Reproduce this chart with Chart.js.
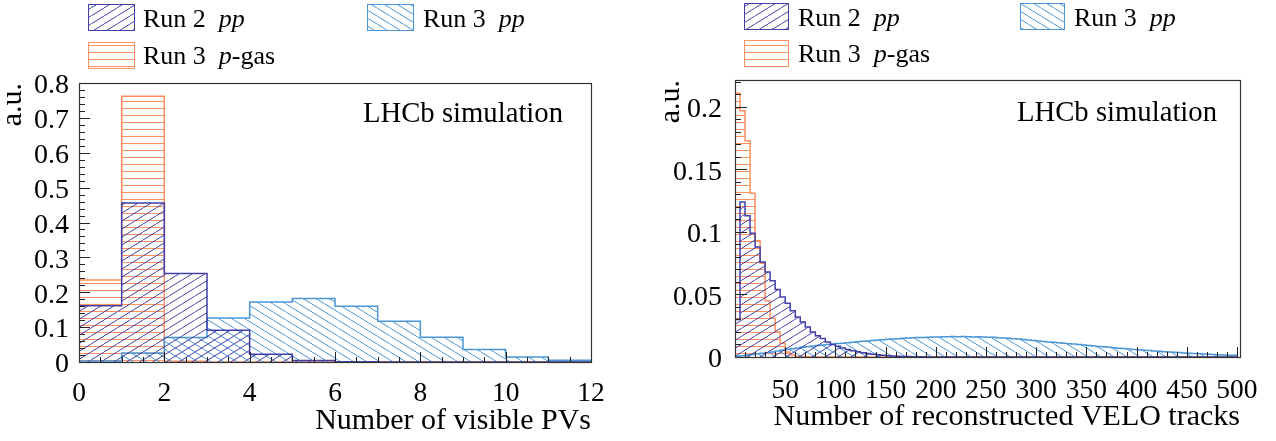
<!DOCTYPE html>
<html><head><meta charset="utf-8">
<script src="https://cdn.jsdelivr.net/npm/chart.js@4.4.1/dist/chart.umd.min.js"></script>
<style>
html,body{margin:0;padding:0;background:#fff;}
#wrap{position:relative;width:1276px;height:441px;overflow:hidden;background:#fff;}
.panel{position:absolute;top:0;width:638px;height:441px;}
#p1{left:0;} #p2{left:638px;}
</style></head><body>
<div id="wrap">
<div class="panel" id="p1"><canvas id="c1" width="638" height="441"></canvas></div>
<div class="panel" id="p2"><canvas id="c2" width="638" height="441"></canvas></div>
</div>
<script>
// ---------- data: left panel (number of visible PVs, bins of width 1) ----------
const pvEdges = [0,1,2,3,4,5,6,7,8,9,10,11,12];
const pvRun2pp  = [0.161, 0.456, 0.254, 0.091, 0.022, 0.004, 0.001, 0, 0, 0, 0, 0];
const pvRun3pp  = [0.003, 0.026, 0.070, 0.126, 0.172, 0.182, 0.160, 0.117, 0.071, 0.036, 0.014, 0.005];
const pvRun3gas = [0.235, 0.762, 0.002, 0, 0, 0, 0, 0, 0, 0, 0, 0];
const pvXTicks = [0, 2, 4, 6, 8, 10, 12];
const pvYTicks = [0, 0.1, 0.2, 0.3, 0.4, 0.5, 0.6, 0.7, 0.8];

// ---------- data: right panel (number of reconstructed VELO tracks, bins of width 5) ----------
const trkBinWidth = 5;
const trkRun2pp = [
 0.030,0.124,0.113,0.099,0.088,0.076,0.068,0.061,0.054,0.048,
 0.043,0.037,0.032,0.028,0.024,0.020,0.017,0.0147,0.012,0.010,
 0.0085,0.0072,0.006,0.005,0.0041,0.0034,0.0027,0.0022,0.0017,0.0013,
 0.001,0.0008,0.0006,0.0004,0.0003,0.0002,0.0002,0.0001,0,0,
 0,0,0,0,0,0,0,0,0,0,
 0,0,0,0,0,0,0,0,0,0,
 0,0,0,0,0,0,0,0,0,0,
 0,0,0,0,0,0,0,0,0,0,
 0,0,0,0,0,0,0,0,0,0,
 0,0,0,0,0,0,0,0,0,0];
const trkRun3pp = [
 0.0005,0.001,0.0015,0.002,0.0025,0.003,0.0035,0.004,0.0047,0.0055,
 0.006,0.0066,0.0072,0.0077,0.0082,0.0087,0.0091,0.0095,0.0099,0.0103,
 0.0107,0.011,0.0114,0.0118,0.0121,0.0125,0.0128,0.0132,0.0135,0.0138,
 0.0141,0.0143,0.0146,0.0149,0.0151,0.0153,0.0155,0.0156,0.0158,0.0159,
 0.016,0.0162,0.0161,0.0163,0.0162,0.0163,0.0162,0.016,0.0161,0.0159,
 0.0157,0.0158,0.0154,0.0151,0.0149,0.0146,0.0143,0.0139,0.0136,0.0131,
 0.0128,0.0124,0.012,0.0117,0.0113,0.011,0.0106,0.0103,0.0099,0.0095,
 0.0092,0.0088,0.0084,0.0081,0.0077,0.0074,0.007,0.0067,0.0064,0.006,
 0.0057,0.0054,0.0051,0.0048,0.0045,0.0042,0.004,0.0037,0.0035,0.0032,
 0.003,0.0028,0.0025,0.0023,0.0021,0.0019,0.0017,0.0016,0.0014,0.0013];
const trkRun3gas = [
 0.211,0.197,0.173,0.131,0.093,0.075,0.045,0.031,0.020,0.011,
 0.004,0.0015,0.0006,0.0003,0.0001,0,0,0,0,0,
 0,0,0,0,0,0,0,0,0,0,
 0,0,0,0,0,0,0,0,0,0,
 0,0,0,0,0,0,0,0,0,0,
 0,0,0,0,0,0,0,0,0,0,
 0,0,0,0,0,0,0,0,0,0,
 0,0,0,0,0,0,0,0,0,0,
 0,0,0,0,0,0,0,0,0,0,
 0,0,0,0,0,0,0,0,0,0];
const trkXTicks = [50, 100, 150, 200, 250, 300, 350, 400, 450, 500];
const trkYTicks = [0, 0.05, 0.1, 0.15, 0.2];

const seriesNames = ['Run 2 pp', 'Run 3 pp', 'Run 3 p-gas'];
const panelLabel = 'LHCb simulation';

// ---------- styling helpers ----------
const FONT = '"Liberation Serif", "Times New Roman", Times, serif';
const C_RUN2 = '#4040a8';
const C_RUN3 = '#4a96d6';
const C_GAS  = '#ff9060';

function makeHatch(color, kind) {
  const c = document.createElement('canvas');
  const g = c.getContext('2d');
  if (kind === 'h') {
    c.width = 10; c.height = 7;
    g.strokeStyle = color; g.lineWidth = 1;
    g.beginPath(); g.moveTo(0, 3.5); g.lineTo(10, 3.5);
  } else {
    const W = 13, H = 8; c.width = W; c.height = H;
    g.strokeStyle = color; g.lineWidth = 1;
    g.beginPath();
    for (const dx of [-W, 0, W]) {
      if (kind === 'f') { g.moveTo(dx, H); g.lineTo(dx + W, 0); }
      else { g.moveTo(dx, 0); g.lineTo(dx + W, H); }
    }
  }
  g.stroke();
  return g.createPattern(c, 'repeat');
}

function histPoints(edges, values) {
  const n = values.length;
  const pts = [{x: edges[0], y: 0}];
  for (let i = 0; i < n; i++) pts.push({x: edges[i], y: values[i]});
  pts.push({x: edges[n], y: values[n - 1]});
  pts.push({x: edges[n], y: 0});
  return pts;
}

const rootFrame = {
  id: 'rootFrame',
  afterDatasetsDraw(chart, args, o) {
    const {ctx, chartArea: a} = chart;
    const xs = chart.scales.x, ys = chart.scales.y;
    ctx.save();
    ctx.strokeStyle = '#222'; ctx.lineWidth = 1;
    ctx.beginPath();
    const nx = Math.round((o.xTo - o.xFrom) / o.xMinor);
    for (let i = 0; i <= nx; i++) {
      const px = Math.round(xs.getPixelForValue(o.xFrom + i * o.xMinor)) + 0.5;
      const len = (i % o.xSub === 0) ? o.xMajorLen : o.xMinorLen;
      ctx.moveTo(px, a.bottom); ctx.lineTo(px, a.bottom - len);
    }
    const ny = Math.round((o.yTo - o.yFrom) / o.yMinor);
    for (let i = 0; i <= ny; i++) {
      const py = Math.round(ys.getPixelForValue(o.yFrom + i * o.yMinor)) + 0.5;
      const len = (i % o.ySub === 0) ? o.yMajorLen : o.yMinorLen;
      ctx.moveTo(a.left, py); ctx.lineTo(a.left + len, py);
    }
    ctx.stroke();
    ctx.strokeStyle = '#333'; ctx.lineWidth = 1.2;
    ctx.strokeRect(a.left + 0.5, a.top + 0.5, a.right - a.left, a.bottom - a.top);
    ctx.restore();
  },
  afterDraw(chart, args, o) {
    const ctx = chart.ctx;
    ctx.save();
    const dsets = chart.data.datasets;
    o.legend.forEach((it) => {
      const ds = dsets[it.ds];
      ctx.fillStyle = ds.backgroundColor;
      ctx.fillRect(it.x, it.y, it.w, it.h);
      ctx.strokeStyle = ds.borderColor; ctx.lineWidth = 1;
      ctx.strokeRect(it.x + 0.5, it.y + 0.5, it.w, it.h);
      let x = it.tx;
      ctx.fillStyle = '#000'; ctx.textBaseline = 'alphabetic'; ctx.textAlign = 'left';
      for (const [txt, italic] of ds.labelParts) {
        ctx.font = (italic ? 'italic ' : '') + o.legendFont;
        ctx.fillText(txt, x, it.ty);
        x += ctx.measureText(txt).width;
      }
    });
    ctx.font = o.labelFont; ctx.fillStyle = '#000'; ctx.textAlign = 'center';
    ctx.fillText(panelLabel, o.labelX, o.labelY);
    ctx.restore();
  }
};

function makeDatasets(edges, r2, r3, gas) {
  return [
    {label: seriesNames[0], labelParts: [['Run 2  ', false], ['pp', true]],
     data: histPoints(edges, r2), borderColor: C_RUN2, backgroundColor: makeHatch(C_RUN2, 'f'), order: 1},
    {label: seriesNames[1], labelParts: [['Run 3  ', false], ['pp', true]],
     data: histPoints(edges, r3), borderColor: C_RUN3, backgroundColor: makeHatch(C_RUN3, 'b'), order: 2},
    {label: seriesNames[2], labelParts: [['Run 3  ', false], ['p', true], ['-gas', false]],
     data: histPoints(edges, gas), borderColor: C_GAS, backgroundColor: makeHatch(C_GAS, 'h'), order: 3}
  ].map(d => Object.assign(d, {stepped: true, fill: 'origin', borderWidth: 1.5, pointRadius: 0, tension: 0}));
}

function makeChart(id, cfg) {
  return new Chart(document.getElementById(id), {
    type: 'line',
    data: {datasets: cfg.datasets},
    options: {
      responsive: false, animation: false, devicePixelRatio: 1,
      layout: {padding: cfg.pad},
      plugins: {legend: {display: false}, tooltip: {enabled: false}, rootFrame: cfg.frame},
      scales: {
        x: {
          type: 'linear', min: cfg.xMin, max: cfg.xMax,
          grid: {display: false}, border: {display: false},
          afterBuildTicks: s => { s.ticks = cfg.xTicks.map(v => ({value: v})); },
          afterFit: s => { s.height = cfg.xHeight; },
          ticks: {autoSkip: false, maxRotation: 0, minRotation: 0, padding: cfg.xTickPad,
                  font: {family: FONT, size: 27.5}, color: '#000', callback: v => String(v)},
          title: {display: true, text: cfg.xTitle, align: 'end', color: '#000',
                  font: {family: FONT, size: 30, lineHeight: 1.2}, padding: {top: 0, bottom: cfg.xTitlePad}}
        },
        y: {
          type: 'linear', min: 0, max: cfg.yMax,
          grid: {display: false}, border: {display: false},
          afterBuildTicks: s => { s.ticks = cfg.yTicks.map(v => ({value: v})); },
          afterFit: s => { s.width = cfg.yWidth; },
          ticks: {autoSkip: false, padding: cfg.yTickPad, labelOffset: 3,
                  font: {family: FONT, size: 28}, color: '#000', callback: v => String(v)},
          title: {display: true, text: 'a.u.', align: 'end', color: '#000',
                  font: {family: FONT, size: 30, lineHeight: 0.9}, padding: {top: cfg.yTitlePad, bottom: 0}}
        }
      }
    },
    plugins: [rootFrame]
  });
}

const trkEdges = trkRun2pp.map((_, i) => i * trkBinWidth).concat([trkRun2pp.length * trkBinWidth]);

makeChart('c1', {
  datasets: makeDatasets(pvEdges, pvRun2pp, pvRun3pp, pvRun3gas),
  pad: {left: 0, top: 83, right: 47, bottom: 0},
  xMin: 0, xMax: 12, xTicks: pvXTicks, xHeight: 79, xTickPad: 7, xTitlePad: 2,
  xTitle: 'Number of visible PVs',
  yMax: 0.8, yTicks: pvYTicks, yWidth: 79, yTickPad: 2, yTitlePad: 0,
  frame: {
    xFrom: 0, xTo: 12, xMinor: 0.5, xSub: 4, xMajorLen: 10, xMinorLen: 5,
    yFrom: 0, yTo: 0.8, yMinor: 0.02, ySub: 5, yMajorLen: 11, yMinorLen: 6,
    legend: [
      {ds: 0, x: 88, y: 4, w: 46, h: 26, tx: 143, ty: 27},
      {ds: 1, x: 367, y: 4, w: 46, h: 26, tx: 423, ty: 27},
      {ds: 2, x: 88, y: 42, w: 46, h: 26, tx: 143, ty: 63.5}
    ],
    legendFont: '26px ' + FONT, labelFont: '28.7px ' + FONT, labelX: 463, labelY: 122
  }
});

makeChart('c2', {
  datasets: makeDatasets(trkEdges, trkRun2pp, trkRun3pp, trkRun3gas),
  pad: {left: 0, top: 80, right: 36, bottom: 0},
  xMin: 0, xMax: 503, xTicks: trkXTicks, xHeight: 84, xTickPad: 9, xTitlePad: 6,
  xTitle: 'Number of reconstructed VELO tracks',
  yMax: 0.2215, yTicks: trkYTicks, yWidth: 97, yTickPad: 5, yTitlePad: 20,
  frame: {
    xFrom: 0, xTo: 500, xMinor: 10, xSub: 5, xMajorLen: 10, xMinorLen: 5,
    yFrom: 0, yTo: 0.22, yMinor: 0.01, ySub: 5, yMajorLen: 12, yMinorLen: 6,
    legend: [
      {ds: 0, x: 106, y: 3, w: 44, h: 26, tx: 160, ty: 25.5},
      {ds: 1, x: 382, y: 3, w: 44, h: 26, tx: 436, ty: 25.5},
      {ds: 2, x: 106, y: 40, w: 44, h: 26, tx: 160, ty: 62}
    ],
    legendFont: '26px ' + FONT, labelFont: '28.7px ' + FONT, labelX: 479, labelY: 121
  }
});
</script>
</body></html>
